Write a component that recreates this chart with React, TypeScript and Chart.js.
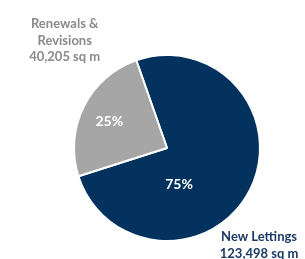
import React, { useEffect, useRef } from "react";
import { Chart, registerables } from "chart.js";

Chart.register(...registerables);

const categories = ["New Lettings", "Renewals & Revisions"];
const areas = [123498, 40205];
const areaLabels = ["123,498 sq m", "40,205 sq m"];
const percentLabels = ["75%", "25%"];
const colors = ["#03325f", "#a6a6a6"];
const textColors = ["#1c3a66", "#8a8a8a"];

const FONT = "Lato, 'Open Sans', sans-serif";

const labelPlugin = {
  id: "pieLabels",
  afterDatasetsDraw(chart: any) {
    const ctx = chart.ctx;
    const meta = chart.getDatasetMeta(0);
    const arc0 = meta.data[0];
    const { x: cx, y: cy, outerRadius: r } = arc0.getProps(["x", "y", "outerRadius"], true);
    // percent labels inside slices (offsets as fraction of radius)
    const inner = [
      { dx: 0.13, dy: 0.39 },
      { dx: -0.62, dy: -0.28 },
    ];
    ctx.save();
    ctx.fillStyle = "#ffffff";
    ctx.font = `bold 14px ${FONT}`;
    ctx.textAlign = "center";
    ctx.textBaseline = "middle";
    percentLabels.forEach((t, i) => {
      ctx.fillText(t, cx + inner[i].dx * r, cy + inner[i].dy * r);
    });
    // outside category labels
    ctx.font = `bold 13px ${FONT}`;
    const lh = 16.5;
    // New Lettings (bottom right)
    ctx.fillStyle = textColors[0];
    const nx = cx + 0.99 * r;
    const ny = cy + 0.96 * r;
    ctx.fillText(categories[0], nx, ny);
    ctx.fillText(areaLabels[0], nx, ny + lh);
    // Renewals & Revisions (top left)
    ctx.fillStyle = textColors[1];
    const rx = cx - 1.1 * r;
    const ry = cy - 1.33 * r;
    ctx.fillText("Renewals &", rx, ry);
    ctx.fillText("Revisions", rx, ry + lh);
    ctx.fillText(areaLabels[1], rx, ry + 2 * lh);
    ctx.restore();
  },
};

export default function App() {
  const ref = useRef<HTMLCanvasElement>(null);
  useEffect(() => {
    document.body.style.margin = "0";
    const chart = new Chart(ref.current!, {
      type: "pie",
      data: {
        labels: categories,
        datasets: [
          {
            data: areas,
            backgroundColor: colors,
            borderColor: "#ffffff",
            borderWidth: 2,
          },
        ],
      },
      options: {
        animation: false,
        responsive: false,
        rotation: -19.3,
        layout: { padding: { left: 73, right: 44, top: 54, bottom: 17 } },
        plugins: {
          legend: { display: false },
          tooltip: { enabled: false },
        },
      },
      plugins: [labelPlugin],
    });
    return () => chart.destroy();
  }, []);
  return (
    <div style={{ width: 305, height: 259, background: "#ffffff" }}>
      <canvas ref={ref} width={305} height={259} />
    </div>
  );
}
